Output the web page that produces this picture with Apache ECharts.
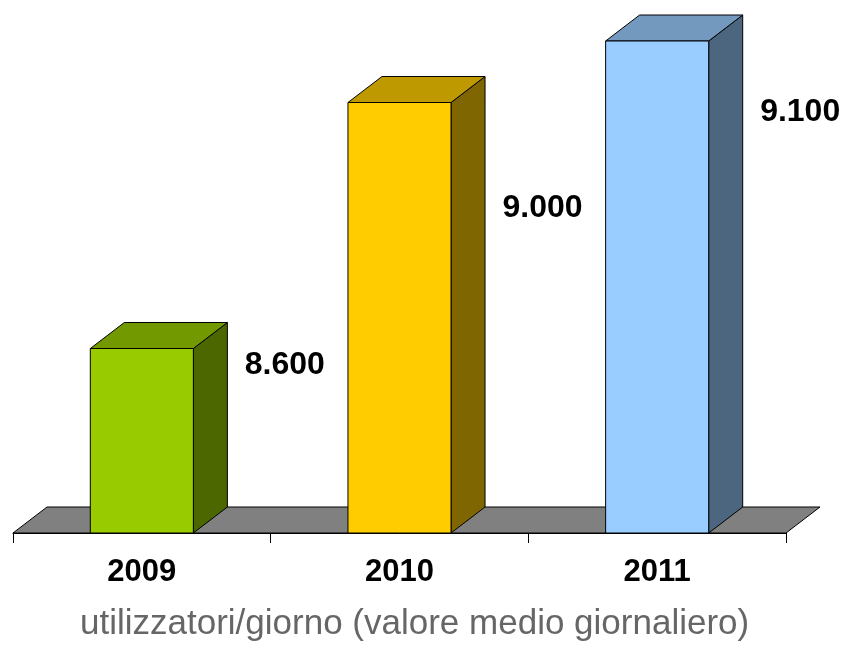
<!DOCTYPE html>
<html>
<head>
<meta charset="utf-8">
<script src="https://cdn.jsdelivr.net/npm/echarts@6/dist/echarts.min.js"></script>
<style>
html, body { margin: 0; padding: 0; background: #fff; }
#container { width: 850px; height: 646px; }
</style>
</head>
<body>
<div id="container"></div>
<script>
// dati
const years = ['2009', '2010', '2011'];
const users = [8600, 9000, 9100];
const userLabels = ['8.600', '9.000', '9.100'];

// colori delle facce (fronte / sopra / lato)
const frontColors = ['#99CC00', '#FFCC00', '#99CCFF'];
const topColors = ['#739900', '#BF9900', '#7399BF'];
const sideColors = ['#4C6600', '#806600', '#4C6680'];
const labelDrop = [17, 106, 71]; // distanza etichetta dal bordo alto (px)

const yMin = 8300, yMax = 9100;
const depthX = 34, depthY = 26;
const font = '"Liberation Sans", Arial, sans-serif';

const chart = echarts.init(document.getElementById('container'));

function renderFloor(params, api) {
	const cs = params.coordSys;
	const yb = cs.y + cs.height;
	const xl = cs.x, xr = cs.x + cs.width;
	return {
		type: 'polygon',
		shape: { points: [[xl, yb], [xl + depthX, yb - depthY], [xr + depthX, yb - depthY], [xr, yb]] },
		style: { fill: '#808080', stroke: '#000', lineWidth: 1 }
	};
}

function renderBar(params, api) {
	const i = params.dataIndex;
	const top = api.coord([api.value(0), api.value(1)]);
	const base = api.coord([api.value(0), yMin]);
	const w = api.size([1, 0])[0] * 0.4;
	const x0 = top[0] - w / 2, x1 = top[0] + w / 2;
	const y0 = top[1], y1 = base[1];
	const edge = { stroke: '#000', lineWidth: 1 };
	return {
		type: 'group',
		children: [
			{
				type: 'polygon',
				shape: { points: [[x1, y0], [x1 + depthX, y0 - depthY], [x1 + depthX, y1 - depthY], [x1, y1]] },
				style: Object.assign({ fill: sideColors[i] }, edge)
			},
			{
				type: 'polygon',
				shape: { points: [[x0, y0], [x0 + depthX, y0 - depthY], [x1 + depthX, y0 - depthY], [x1, y0]] },
				style: Object.assign({ fill: topColors[i] }, edge)
			},
			{
				type: 'rect',
				shape: { x: x0, y: y0, width: w, height: y1 - y0 },
				style: Object.assign({ fill: frontColors[i] }, edge)
			},
			{
				type: 'text',
				style: {
					text: userLabels[i],
					x: top[0] + 143,
					y: y0 + labelDrop[i],
					align: 'center',
					verticalAlign: 'middle',
					font: 'bold 32px ' + font,
					fill: '#000'
				}
			}
		]
	};
}

const option = {
	animation: false,
	title: {
		text: 'utilizzatori/giorno (valore medio giornaliero)',
		left: 80,
		top: 607,
		padding: 0,
		textStyle: { fontFamily: font, fontSize: 35, fontWeight: 'normal', color: '#666' }
	},
	grid: { left: 13, right: 64, top: 41, bottom: 113 },
	xAxis: {
		type: 'category',
		data: years,
		boundaryGap: true,
		axisLine: { show: true, lineStyle: { color: '#000', width: 1 } },
		axisTick: { show: true, interval: 0, length: 10, lineStyle: { color: '#000', width: 1 } },
		axisLabel: { fontFamily: font, fontSize: 31, fontWeight: 'bold', color: '#000', margin: 24 }
	},
	yAxis: { type: 'value', min: yMin, max: yMax, show: false },
	series: [
		{
			type: 'custom',
			renderItem: renderFloor,
			data: [[0]],
			z: 1,
			silent: true
		},
		{
			type: 'custom',
			renderItem: renderBar,
			data: users.map((v, i) => [i, v]),
			z: 3
		}
	]
};
chart.setOption(option);
</script>
</body>
</html>
